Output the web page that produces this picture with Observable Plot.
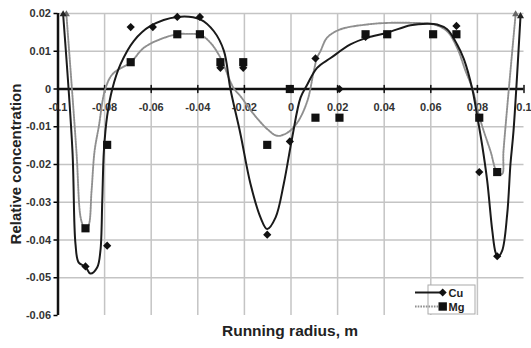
<!DOCTYPE html>
<html>
<head>
<meta charset="utf-8">
<script src="https://cdn.jsdelivr.net/npm/d3@7"></script>
<script src="https://cdn.jsdelivr.net/npm/@observablehq/plot@0.6"></script>
<style>
  html, body { margin: 0; padding: 0; background: #fff; }
  #wrap { position: relative; width: 531px; height: 348px; font-family: "Liberation Sans", Arial, sans-serif; }
  #legend { position: absolute; left: 414px; top: 284px; width: 62px; height: 31px; }
  .title { position: absolute; white-space: nowrap; font-weight: bold; color: #222; line-height: 1; }
  #ytitle { left: 15px; top: 164px; font-size: 15px; transform: translate(-50%, -50%) rotate(-90deg); }
  #xtitle { left: 290px; top: 331px; font-size: 15.5px; transform: translate(-50%, -50%); }
</style>
</head>
<body>
<div id="wrap"></div>
<script>
// Axis ticks
const xTicks = [-0.1, -0.08, -0.06, -0.04, -0.02, 0, 0.02, 0.04, 0.06, 0.08, 0.1];
const xTickLabels = ["-0.1", "-0.08", "-0.06", "-0.04", "-0.02", "0", "0.02", "0.04", "0.06", "0.08", "0.1"];
const xGrid = [-0.08, -0.06, -0.04, -0.02, 0, 0.02, 0.04, 0.06, 0.08];
const yTicks = [0.02, 0.01, 0, -0.01, -0.02, -0.03, -0.04, -0.05, -0.06];
const yTickLabels = ["0.02", "0.01", "0", "-0.01", "-0.02", "-0.03", "-0.04", "-0.05", "-0.06"];
const xTitle = "Running radius, m";
const yTitle = "Relative concentration";

// Measured points
const cuX = [-0.0882, -0.0789, -0.0688, -0.0593, -0.0488, -0.0391, -0.0303, -0.0205, -0.0102, -0.0005, 0.0105, 0.0208, 0.032, 0.071, 0.0808, 0.0885];
const cuY = [-0.047, -0.0415, 0.0164, 0.0164, 0.0191, 0.0191, 0.0056, 0.0056, -0.0386, -0.0139, 0.0081, 0, 0.0138, 0.0167, -0.022, -0.0443];
const mgX = [-0.0882, -0.0789, -0.0688, -0.0488, -0.0391, -0.0303, -0.0205, -0.0102, -0.0005, 0.0105, 0.0208, 0.032, 0.0413, 0.061, 0.071, 0.0808, 0.0885];
const mgY = [-0.0369, -0.0148, 0.0071, 0.0145, 0.0145, 0.0071, 0.0071, -0.0148, 0, -0.0076, -0.0076, 0.0145, 0.0145, 0.0145, 0.0145, -0.0076, -0.022];

// Fitted trend curves
const cuCurveX = [-0.0978, -0.0938, -0.0925, -0.0911, -0.0882, -0.0861, -0.0832, -0.0818, -0.0810, -0.0803, -0.0789, -0.0767, -0.0732, -0.0675, -0.0603, -0.0488, -0.0388, -0.0331, -0.0288, -0.0260, -0.0217, -0.0174, -0.0131, -0.0102, -0.0066, -0.0031, 0.0005, 0.0041, 0.0070, 0.0112, 0.0170, 0.0255, 0.0327, 0.0413, 0.0513, 0.0585, 0.0627, 0.0670, 0.0713, 0.0742, 0.0778, 0.0799, 0.0821, 0.0842, 0.0864, 0.0878, 0.0888, 0.0906, 0.0928, 0.0942, 0.0955, 0.0985];
const cuCurveY = [0.0198, -0.0164, -0.0410, -0.0460, -0.0471, -0.0489, -0.0473, -0.0429, -0.0296, -0.0164, -0.0071, 0, 0.0065, 0.0127, 0.0167, 0.0191, 0.0184, 0.0153, 0.0101, 0, -0.0119, -0.0251, -0.0340, -0.0371, -0.0340, -0.0251, -0.0129, -0.0023, 0.0012, 0.0056, 0.0082, 0.0118, 0.0136, 0.0149, 0.0169, 0.0173, 0.0171, 0.0158, 0.0118, 0.0079, 0, -0.0071, -0.0151, -0.0243, -0.0376, -0.0433, -0.0444, -0.0429, -0.0331, -0.0198, -0.0111, 0.0193];
const mgCurveX = [-0.0964, -0.0921, -0.0903, -0.0890, -0.0882, -0.0869, -0.0856, -0.0843, -0.0825, -0.0798, -0.0765, -0.0688, -0.0632, -0.0560, -0.0488, -0.0445, -0.0388, -0.0345, -0.0303, -0.0247, -0.0217, -0.0161, -0.0102, -0.0059, -0.0016, 0.0027, 0.0070, 0.0098, 0.0112, 0.0127, 0.0155, 0.0212, 0.0327, 0.0413, 0.0527, 0.0613, 0.0670, 0.0713, 0.0749, 0.0779, 0.0805, 0.0827, 0.0856, 0.0885, 0.0906, 0.0912, 0.0964];
const mgCurveY = [0.0198, -0.0164, -0.0340, -0.0365, -0.0370, -0.0362, -0.0270, -0.0164, -0.0100, -0.0002, 0.0040, 0.0071, 0.0109, 0.0132, 0.0145, 0.0146, 0.0143, 0.0122, 0.0083, 0.0003, -0.0019, -0.0066, -0.0106, -0.0124, -0.0116, -0.0089, -0.0032, 0.0048, 0.0083, 0.0101, 0.0136, 0.0158, 0.0171, 0.0175, 0.0175, 0.0171, 0.0153, 0.0109, 0.0048, 0, -0.0066, -0.0111, -0.0164, -0.0221, -0.0225, -0.0164, 0.0198];

const cuPts = cuX.map((x, i) => ({x, y: cuY[i]}));
const mgPts = mgX.map((x, i) => ({x, y: mgY[i]}));
const cuCurve = cuCurveX.map((x, i) => ({x, y: cuCurveY[i]}));
const mgCurve = mgCurveX.map((x, i) => ({x, y: mgCurveY[i]}));
const cuEnds = [cuCurve[0], cuCurve[cuCurve.length - 1]];
const mgEnds = [mgCurve[0], mgCurve[mgCurve.length - 1]];

const font = "'Liberation Sans', Arial, sans-serif";

const chart = Plot.plot({
  width: 531,
  height: 348,
  marginLeft: 57.5,
  marginRight: 7.5,
  marginTop: 13,
  marginBottom: 33,
  style: {fontFamily: font, background: "#fff", overflow: "visible"},
  x: {domain: [-0.1, 0.1]},
  y: {domain: [-0.06, 0.02]},
  marks: [
    Plot.gridX(xGrid, {stroke: "#c4c4c4", strokeOpacity: 1, strokeWidth: 1.5}),
    Plot.gridY(yTicks.filter(d => d !== 0 && d !== -0.06), {stroke: "#c4c4c4", strokeOpacity: 1, strokeWidth: 1.5}),
    Plot.axisY(yTicks, {
      tickSize: 4, tickPadding: 3, strokeWidth: 1.5,
      tickFormat: (d) => yTickLabels[yTicks.indexOf(d)],
      fontSize: 11, fontWeight: "bold", fill: "#333", label: null
    }),
    Plot.axisX([], {label: null, tickSize: 0}),
    Plot.ruleY([0], {stroke: "#111", strokeWidth: 2.5}),
    Plot.ruleX([-0.1], {stroke: "#111", strokeWidth: 2.5}),
    Plot.vector(xTicks, {
      x: d => d, y: 0, length: 7, anchor: "middle", stroke: "#111", strokeWidth: 1.5,
      shape: {draw(ctx, l) { ctx.moveTo(0, 0); ctx.lineTo(0, -l); }}
    }),
    Plot.text(xTicks, {
      x: d => d, y: 0, dy: 18, text: (d, i) => xTickLabels[i],
      fontSize: 11, fontWeight: "bold", fill: "#333"
    }),
    Plot.line(mgCurve, {x: "x", y: "y", curve: "catmull-rom", stroke: "#8f8f8f", strokeWidth: 1.9, strokeDasharray: "1.6,1.1"}),
    Plot.line(cuCurve, {x: "x", y: "y", curve: "catmull-rom", stroke: "#1a1a1a", strokeWidth: 2}),
    Plot.dot(mgEnds, {x: "x", y: "y", symbol: "triangle", r: 2.6, fill: "#666"}),
    Plot.dot(cuEnds, {x: "x", y: "y", symbol: "triangle", r: 2.6, fill: "#222"}),
    Plot.dot(cuPts, {x: "x", y: "y", symbol: "diamond2", r: 3.7, fill: "#111", stroke: "none"}),
    Plot.dot(mgPts, {x: "x", y: "y", symbol: "square", r: 4.6, fill: "#111"})
  ]
});

const wrap = document.getElementById("wrap");
wrap.appendChild(chart);

const yt = document.createElement("div");
yt.className = "title"; yt.id = "ytitle"; yt.textContent = yTitle;
wrap.appendChild(yt);
const xt = document.createElement("div");
xt.className = "title"; xt.id = "xtitle"; xt.textContent = xTitle;
wrap.appendChild(xt);

const legendSeries = ["Cu", "Mg"];
const legend = document.createElement("div");
legend.id = "legend";
legend.innerHTML = `<svg width="62" height="31" style="overflow:visible;font-family:${font}">
  <rect x="14" y="1" width="47" height="29" fill="#fff" stroke="#aaa" stroke-width="1"/>
  <line x1="1" y1="8.5" x2="26" y2="8.5" stroke="#1a1a1a" stroke-width="2"/>
  <path d="M28.7,4.5 L32.7,8.5 L28.7,12.5 L24.7,8.5 Z" fill="#111"/>
  <text x="34.5" y="12.5" font-size="11" font-weight="bold" fill="#222">${legendSeries[0]}</text>
  <line x1="1" y1="22.5" x2="26" y2="22.5" stroke="#8f8f8f" stroke-width="1.9" stroke-dasharray="1.6,1.1"/>
  <rect x="24.5" y="18.3" width="8.4" height="8.4" fill="#111"/>
  <text x="34.5" y="26.5" font-size="11" font-weight="bold" fill="#222">${legendSeries[1]}</text>
</svg>`;
wrap.appendChild(legend);
</script>
</body>
</html>
